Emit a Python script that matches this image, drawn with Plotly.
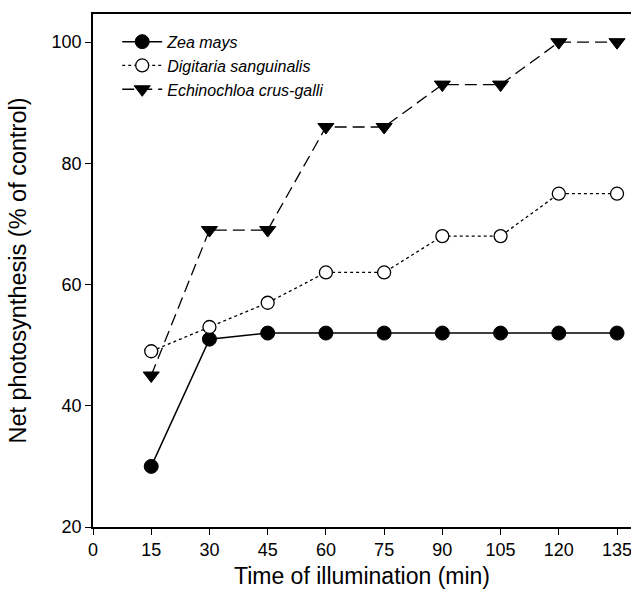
import plotly.graph_objects as go

time_min = [15, 30, 45, 60, 75, 90, 105, 120, 135]
zea_mays = [30, 51, 52, 52, 52, 52, 52, 52, 52]
digitaria = [49, 53, 57, 62, 62, 68, 68, 75, 75]
echinochloa = [45, 69, 69, 86, 86, 93, 93, 100, 100]
x_ticks = [0, 15, 30, 45, 60, 75, 90, 105, 120, 135]
y_ticks = [20, 40, 60, 80, 100]

fig = go.Figure()
fig.add_trace(go.Scatter(
    x=time_min, y=zea_mays, name="<i>Zea mays</i>", mode="lines+markers",
    line=dict(color="black", width=1.5, dash="solid"),
    marker=dict(symbol="circle", size=14, color="black", line=dict(color="black", width=1))))
fig.add_trace(go.Scatter(
    x=time_min, y=digitaria, name="<i>Digitaria sanguinalis</i>", mode="lines+markers",
    line=dict(color="black", width=1.3, dash="dot"),
    marker=dict(symbol="circle", size=13, color="white", line=dict(color="black", width=1.3))))
fig.add_trace(go.Scatter(
    x=time_min, y=echinochloa, name="<i>Echinochloa crus-galli</i>", mode="lines+markers",
    line=dict(color="black", width=1.3, dash="12px,6px"),
    marker=dict(symbol="triangle-down", size=14, color="black", line=dict(color="black", width=1))))

fig.update_layout(
    width=631, height=594,
    margin=dict(l=93, r=0, t=14, b=67),
    plot_bgcolor="white", paper_bgcolor="white",
    font=dict(family="Liberation Sans, Arial, sans-serif", color="black"),
    showlegend=True,
    legend=dict(x=0.045, y=0.979, xanchor="left", yanchor="top",
                bgcolor="rgba(0,0,0,0)", font=dict(size=16),
                tracegroupgap=0, itemwidth=40),
)
fig.update_xaxes(
    range=[0, 138.6], tickvals=x_ticks, ticks="outside", ticklen=6, tickwidth=1.2,
    tickcolor="black", showline=True, linecolor="black", linewidth=1.5, mirror=True,
    showgrid=False, zeroline=False, tickfont=dict(size=18), ticklabeloverflow="allow",
    title=dict(text="Time of illumination (min)", font=dict(size=23), standoff=9))
fig.update_yaxes(
    range=[20, 104.65], tickvals=y_ticks, ticks="outside", ticklen=6, tickwidth=1.2,
    tickcolor="black", showline=True, linecolor="black", linewidth=1.5,
    showgrid=False, zeroline=False, tickfont=dict(size=18),
    title=dict(text="Net photosynthesis (% of control)", font=dict(size=23.5), standoff=18))

fig.write_html("out.html")
